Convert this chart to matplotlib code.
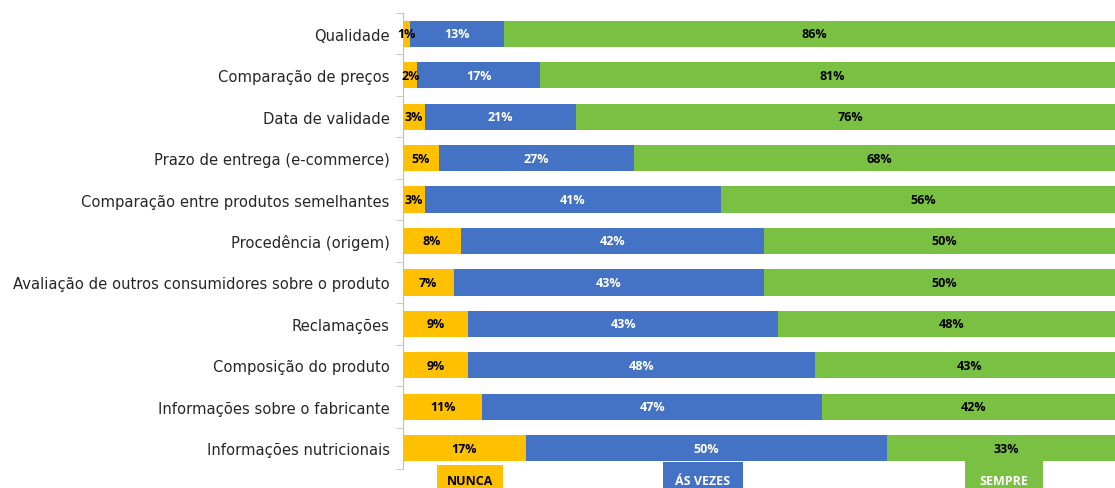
import numpy as np
import matplotlib.pyplot as plt

categorias = ['Qualidade', 'Comparação de preços', 'Data de validade',
              'Prazo de entrega (e-commerce)', 'Comparação entre produtos semelhantes',
              'Procedência (origem)', 'Avaliação de outros consumidores sobre o produto',
              'Reclamações', 'Composição do produto', 'Informações sobre o fabricante',
              'Informações nutricionais']
nunca = [1, 2, 3, 5, 3, 8, 7, 9, 9, 11, 17]
as_vezes = [13, 17, 21, 27, 41, 42, 43, 43, 48, 47, 50]
sempre = [86, 81, 76, 68, 56, 50, 50, 48, 43, 42, 33]

series = [('NUNCA', nunca, '#FFC000', 'black'),
          ('ÁS VEZES', as_vezes, '#4472C4', 'white'),
          ('SEMPRE', sempre, '#7AC043', 'black')]

fig = plt.figure(figsize=(11.15, 4.89), dpi=100)
# o eixo passa da borda direita, como no original (barras cortadas)
ax = fig.add_axes([403 / 1115, 19 / 489, 722 / 1115, 456 / 489])

y = np.arange(len(categorias))
left = np.zeros(len(categorias))
for nome, vals, cor, cor_txt in series:
    ax.barh(y, vals, left=left, color=cor, height=0.63)
    for i, v in enumerate(vals):
        ax.text(left[i] + v / 2, y[i], f'{v}%', ha='center', va='center',
                color=cor_txt, fontsize=9, fontweight='bold', family='Open Sans')
    left += np.array(vals)

ax.set_xlim(0, 100)
ax.set_ylim(len(categorias) - 0.5, -0.5)
ax.set_yticks(y)
ax.set_yticklabels(categorias, fontsize=10.6, color='#262626')
ax.set_yticks(np.arange(-0.5, len(categorias)), minor=True)
ax.tick_params(axis='y', which='major', length=0, pad=9.5)
ax.tick_params(axis='y', which='minor', length=5, color='#BFBFBF')
ax.set_xticks([])
for s in ['top', 'right', 'bottom']:
    ax.spines[s].set_visible(False)
ax.spines['left'].set_color('#BFBFBF')

# legenda em caixas abaixo do gráfico
pos_leg = [470, 703, 1004]
pads = [0.75, 1.0, 1.2]
for (nome, vals, cor, cor_txt), px, pd_ in zip(series, pos_leg, pads):
    fig.text(px / 1115, 7 / 489, nome, ha='center', va='center', fontsize=9,
             fontweight='bold', family='Open Sans',
             color='black' if nome == 'NUNCA' else 'white',
             bbox=dict(boxstyle=f'square,pad={pd_}', fc=cor, ec='none'))

fig.savefig('out.png', dpi=100)
